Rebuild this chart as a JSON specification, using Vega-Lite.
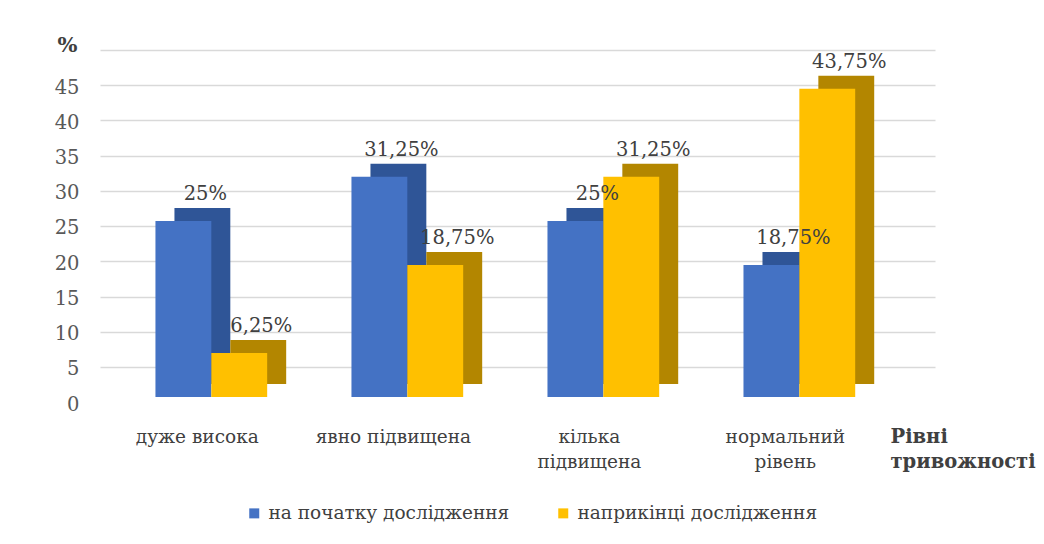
{
  "$schema": "https://vega.github.io/schema/vega-lite/v6.json",
  "width": 835,
  "height": 317,
  "autosize": {"type": "none"},
  "padding": {"left": 100, "top": 80, "right": 109, "bottom": 147},
  "background": "white",
  "config": {
    "font": "DejaVu Serif",
    "axis": {"labelFont": "DejaVu Serif", "titleFont": "DejaVu Serif"},
    "legend": {"labelFont": "DejaVu Serif"},
    "text": {"font": "DejaVu Serif"},
    "view": {"stroke": null},
    "locale": {"number": {"decimal": ",", "thousands": " ", "grouping": [3], "currency": ["", "%"]}}
  },
  "data": {
    "values": [
      {"category": "дуже висока", "series": "на початку дослідження", "value": 25},
      {"category": "дуже висока", "series": "наприкінці дослідження", "value": 6.25},
      {"category": "явно підвищена", "series": "на початку дослідження", "value": 31.25},
      {"category": "явно підвищена", "series": "наприкінці дослідження", "value": 18.75},
      {"category": "кілька підвищена", "series": "на початку дослідження", "value": 25},
      {"category": "кілька підвищена", "series": "наприкінці дослідження", "value": 31.25},
      {"category": "нормальний рівень", "series": "на початку дослідження", "value": 18.75},
      {"category": "нормальний рівень", "series": "наприкінці дослідження", "value": 43.75}
    ]
  },
  "encoding": {
    "x": {
      "field": "category", "type": "nominal", "sort": null,
      "scale": {"paddingInner": 0.43, "paddingOuter": 0.345, "align": 0.41},
      "axis": {
        "domain": false, "ticks": false, "labelAngle": 0,
        "labelFontSize": 18.5, "labelColor": "#404040", "labelPadding": 30,
        "labelLineHeight": 25, "labelOffset": -14,
        "labelExpr": "datum.label == 'кілька підвищена' ? ['кілька', 'підвищена'] : datum.label == 'нормальний рівень' ? ['нормальний', 'рівень'] : datum.label",
        "title": ["Рівні", "тривожності"],
        "titleFontSize": 19.5, "titleFontWeight": "bold", "titleColor": "#404040",
        "titleAlign": "left", "titleBaseline": "top", "titleLineHeight": 25,
        "titleX": 790, "titleY": 30, "titleAngle": 0
      }
    },
    "y": {
      "field": "value", "type": "quantitative",
      "scale": {"domain": [0, 45], "nice": false},
      "axis": {
        "values": [0, 5, 10, 15, 20, 25, 30, 35, 40, 45],
        "domain": false, "ticks": false,
        "labelFontSize": 19.5, "labelColor": "#595959", "labelPadding": 21,
        "tickOffset": -30, "labelOffset": 37,
        "grid": true, "gridColor": "#d9d9d9", "gridWidth": 1.5,
        "title": "%", "titleAngle": 0, "titleFontSize": 21, "titleFontWeight": "bold",
        "titleColor": "#404040", "titleX": -33, "titleY": -35,
        "titleAlign": "center", "titleBaseline": "middle"
      }
    }
  },
  "layer": [
    {
      "mark": {"type": "bar", "yOffset": -13},
      "encoding": {
        "xOffset": {"field": "series", "type": "nominal", "sort": null, "scale": {"range": [19, 130.73]}},
        "color": {
          "field": "series", "type": "nominal", "sort": null,
          "scale": {"range": ["#2F5597", "#B38600"]},
          "legend": null
        }
      }
    },
    {
      "mark": {"type": "bar"},
      "encoding": {
        "xOffset": {"field": "series", "type": "nominal", "sort": null},
        "color": {
          "field": "series", "type": "nominal", "sort": null,
          "scale": {"range": ["#4472C4", "#FFC000"]},
          "legend": {
            "title": null, "orient": "none", "direction": "horizontal",
            "legendX": 145, "legendY": 424,
            "symbolType": "square", "symbolSize": 100, "symbolStrokeWidth": 0,
            "labelFontSize": 18.5, "labelColor": "#404040", "labelOffset": 5,
            "columnPadding": 44, "labelLimit": 400
          }
        }
      }
    },
    {
      "mark": {"type": "text", "dx": 22, "dy": -27, "baseline": "middle", "fontSize": 19.5, "color": "#404040"},
      "encoding": {
        "xOffset": {"field": "series", "type": "nominal", "sort": null},
        "text": {"field": "value", "type": "quantitative", "format": "$.4~"}
      }
    }
  ],
  "resolve": {"scale": {"color": "independent", "xOffset": "independent"}}
}
